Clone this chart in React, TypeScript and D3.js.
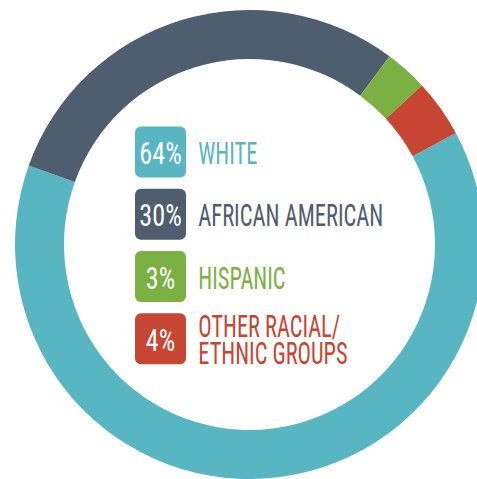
import React from "react";
import * as d3 from "d3";

const categories = ["WHITE", "AFRICAN AMERICAN", "HISPANIC", "OTHER RACIAL/ETHNIC GROUPS"];
const values = [64, 30, 3, 4];
const percentLabels = ["64%", "30%", "3%", "4%"];
const labelLines = [["WHITE"], ["AFRICAN AMERICAN"], ["HISPANIC"], ["OTHER RACIAL/", "ETHNIC GROUPS"]];
const colors = ["#58b5c2", "#4e5e6f", "#7ab142", "#c64533"];

// style: measured widths of the condensed lettering
const labelWidths = [[59], [185], [87.3], [141.7, 149.3]];
const pctWidths = [42.4, 42.4, 29.3, 29.3];

const W = 477;
const H = 479;
const cx = 249.5;
const cy = 244.5;
const outerR = 234.5;
const innerR = 185.5;
const startDeg = 61.6;

const FONT = "'Roboto Condensed', 'Liberation Sans Narrow', 'DejaVu Sans Condensed', 'Liberation Sans', Roboto, sans-serif";

export default function App() {
  const start = (startDeg * Math.PI) / 180;
  const pie = d3
    .pie<number>()
    .sort(null)
    .value((d) => d)
    .startAngle(start)
    .endAngle(start + 2 * Math.PI);
  const arcs = pie(values);
  const arcGen = d3.arc<d3.PieArcDatum<number>>().innerRadius(innerR).outerRadius(outerR);

  const rowY = d3.scalePoint<number>().domain(d3.range(categories.length)).range([126.5, 313.3]);
  const boxX = 135;
  const boxS = 51;
  const textX = 198.3;
  const fs = 30.5;

  return (
    <svg width={W} height={H} style={{ position: "absolute", left: 0, top: 0, display: "block" }}>
      <rect width={W} height={H} fill="#ffffff" />
      <g transform={`translate(${cx},${cy})`}>
        {arcs.map((a, i) => (
          <path key={i} d={arcGen(a) || ""} fill={colors[i]} />
        ))}
      </g>
      {categories.map((c, i) => {
        const y = rowY(i) as number;
        const multi = labelLines[i].length > 1;
        return (
          <g key={c}>
            <rect x={boxX} y={y} width={boxS} height={boxS} rx={6} ry={6} fill={colors[i]} />
            <text
              x={boxX + boxS / 2}
              y={y + 37.5}
              textAnchor="middle"
              fill="#ffffff"
              fontFamily={FONT}
              fontSize={fs}
              fontWeight={400}
              textLength={pctWidths[i]}
              lengthAdjust="spacingAndGlyphs"
            >
              {percentLabels[i]}
            </text>
            <text fill={colors[i]} fontFamily={FONT} fontSize={fs} fontWeight={400}>
              {labelLines[i].map((line, j) => (
                <tspan
                  key={j}
                  x={textX}
                  y={y + (multi ? 24 + j * 26.7 : 37.5)}
                  textLength={labelWidths[i][j]}
                  lengthAdjust="spacingAndGlyphs"
                >
                  {line}
                </tspan>
              ))}
            </text>
          </g>
        );
      })}
    </svg>
  );
}
